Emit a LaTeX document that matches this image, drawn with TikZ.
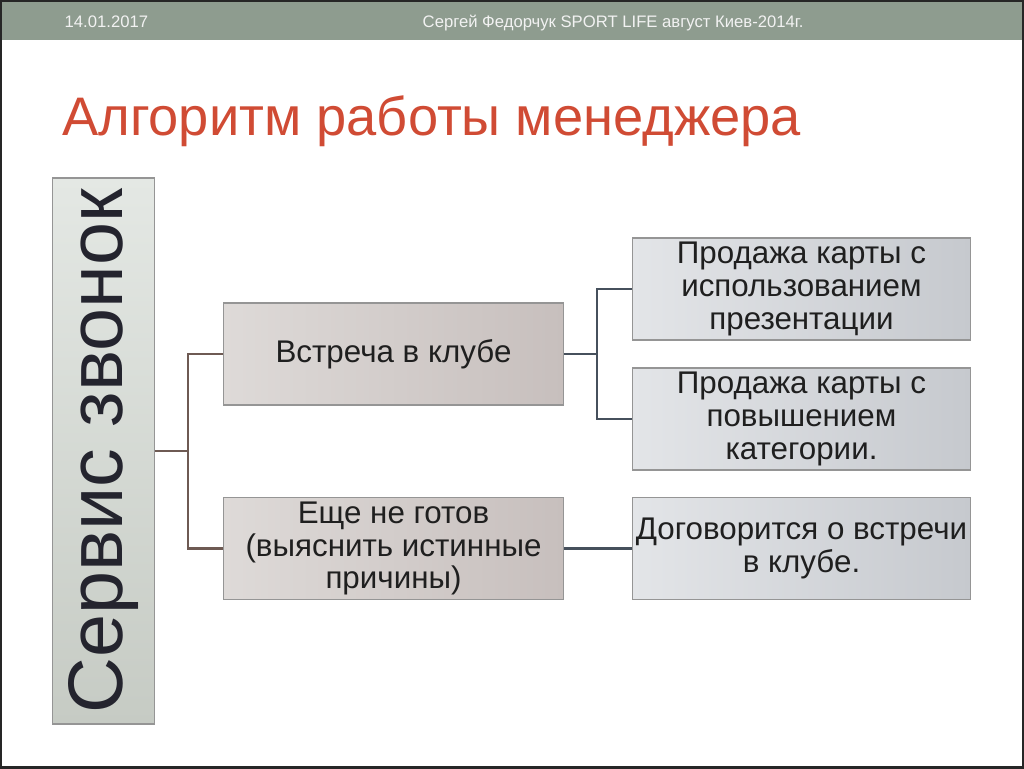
\documentclass[tikz,border=0pt]{standalone}
\usepackage{fontspec}
\usepackage{graphicx}
\setmainfont{Liberation Sans}
\usetikzlibrary{positioning}

\definecolor{headgreen}{HTML}{8E9C8F}
\definecolor{headtext}{HTML}{F2F2F2}
\definecolor{titlered}{HTML}{D04B34}
\definecolor{inkdark}{HTML}{24242E}
\definecolor{boxedge}{HTML}{959595}
\definecolor{brownline}{HTML}{6E5A53}
\definecolor{slateline}{HTML}{46505C}
\definecolor{midlight}{HTML}{DEDAD8}
\definecolor{middark}{HTML}{C7BFBD}
\definecolor{sidelight}{HTML}{E3E5E8}
\definecolor{sidedark}{HTML}{C6C9CE}
\definecolor{servlight}{HTML}{E4E8E4}
\definecolor{servdark}{HTML}{C6CBC4}

\tikzset{
  stagebox/.style={draw=boxedge, line width=0.8pt, align=center, inner sep=2pt,
    text=black!88, font=\fontsize{23.5}{24.5}\selectfont,
    minimum width=255.5pt, minimum height=76.5pt},
  midbox/.style={stagebox, left color=midlight, right color=middark},
  sidebox/.style={stagebox, minimum width=254pt, left color=sidelight, right color=sidedark},
  brownlink/.style={draw=brownline, line width=2.2pt},
  slatelink/.style={draw=slateline, line width=2.2pt}
}

\begin{document}
\begin{tikzpicture}[x=0.75pt, y=-0.75pt]
  \useasboundingbox (0,0) rectangle (1024,768);
  % slide header
  \fill[headgreen] (0,0) rectangle (1024,40);
  \node[anchor=base west, text=headtext, font=\fontsize{12.5}{14}\selectfont] (date) at (60,27) {14.01.2017};
  \node[anchor=base west, text=headtext, font=\fontsize{12.5}{14}\selectfont] (author) at (418,27) {Сергей Федорчук SPORT LIFE август Киев-2014г.};
  \node[anchor=base west, text=titlered, font=\fontsize{40.7}{46}\selectfont, inner sep=0pt] (title) at (62,135) {Алгоритм работы менеджера};

  \node[draw=boxedge, line width=0.8pt, minimum width=77pt, minimum height=409.5pt,
    top color=servlight, bottom color=servdark,
    text=inkdark, font=\fontsize{58}{60}\selectfont, inner sep=0pt] (servis) at (103.5,451) {\rotatebox{90}{Сервис звонок}};

  \node[midbox] (vstrecha) at (393.5,354) {Встреча в клубе};
  \node[midbox] (negotov) at (393.5,548.5) {Еще не готов\\(выяснить истинные\\причины)};

  \node[sidebox] (prez) at (801.5,289) {Продажа карты с\\использованием\\презентации};
  \node[sidebox] (kateg) at (801.5,419) {Продажа карты с\\повышением\\категории.};
  \node[sidebox] (dogovor) at (801.5,548.5) {Договорится о встречи\\в клубе.};

  \coordinate (forkA) at (188,451);
  \coordinate (forkB) at (597,354);
  \draw[brownlink] (servis.east) -- (forkA);
  \draw[brownlink] (vstrecha.west) -| (forkA) |- (negotov.west);
  \draw[slatelink] (vstrecha.east) -- (forkB);
  \draw[slatelink] (prez.west) -| (forkB) |- (kateg.west);
  \draw[slatelink] (negotov.east) -- (dogovor.west);

  % frame
  \draw[black!85, line width=2.5pt] (0,0) rectangle (1024,768);
\end{tikzpicture}
\end{document}
